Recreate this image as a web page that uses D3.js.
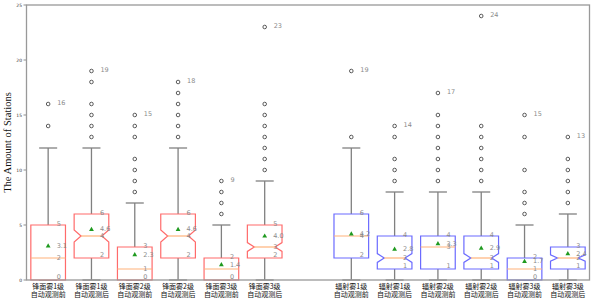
<!DOCTYPE html>
<html>
<head>
<meta charset="utf-8">
<script src="https://cdn.jsdelivr.net/npm/d3@7"></script>
<style>
  body { margin: 0; background: #fff; }
  svg { display: block; }
</style>
</head>
<body>
<svg id="chart"></svg>
<script>
// slot 7 is left empty between the two fog groups
var positions = [1, 2, 3, 4, 5, 6, 8, 9, 10, 11, 12, 13];
var labelTop = ["锋面雾1级", "锋面雾1级", "锋面雾2级", "锋面雾2级", "锋面雾3级", "锋面雾3级",
                "辐射雾1级", "辐射雾1级", "辐射雾2级", "辐射雾2级", "辐射雾3级", "辐射雾3级"];
var labelBottom = ["自动观测前", "自动观测后", "自动观测前", "自动观测后", "自动观测前", "自动观测后",
                   "自动观测前", "自动观测后", "自动观测前", "自动观测后", "自动观测前", "自动观测后"];
var group = ["red", "red", "red", "red", "red", "red", "blue", "blue", "blue", "blue", "blue", "blue"];

var whiskerLo = [0, 0, 0, 0, 0, 0, 0, 0, 0, 0, 0, 0];
var q1 = [0, 2, 0, 2, 0, 2, 2, 1, 1, 1, 0, 1];
var medians = [2, 4, 1, 4, 1, 3, 4, 2, 3, 2, 1, 2];
var q3 = [5, 6, 3, 6, 2, 5, 6, 4, 4, 4, 2, 3];
var whiskerHi = [12, 12, 7, 12, 5, 9, 12, 8, 8, 8, 5, 6];
var means = [3.1, 4.6, 2.3, 4.6, 1.4, 4.0, 4.2, 2.8, 3.3, 2.9, 1.7, 2.4];
var notch = [0, 0.55, 0, 0.55, 0, 0.4, 0, 0.4, 0, 0.4, 0, 0.28];
var outliers = [
  [14, 16],
  [13, 14, 15, 16, 18, 19],
  [8, 9, 10, 11, 13, 14, 15],
  [13, 14, 15, 16, 17, 18],
  [6, 7, 8, 9],
  [10, 11, 12, 13, 14, 15, 16, 23],
  [13, 19],
  [9, 10, 11, 13, 14],
  [9, 10, 11, 12, 13, 14, 15, 17],
  [9, 10, 11, 12, 13, 14, 24],
  [6, 7, 8, 10, 13, 15],
  [7, 8, 9, 10, 11, 13]
];
// median label not visible for this box
var hideMedianLabel = [false, false, false, false, true, false, false, false, false, false, false, false];
var yTicks = [0, 5, 10, 15, 20, 25];

var width = 595, height = 301;
var svg = d3.select("#chart").attr("width", width).attr("height", height);

var x = d3.scaleLinear().domain([0.5, 13.5]).range([26.5, 589.5]);
var y = d3.scaleLinear().domain([0, 25]).range([280, 5]);
var step = x(2) - x(1);
var boxW = step * 0.8;
var capW = boxW * 0.52;

var edgeColor = { red: "#ff6b6b", blue: "#6b6bff" };

var data = positions.map(function(p, i) {
  return { p: p, i: i };
});

var g = svg.append("g");

// whiskers
data.forEach(function(d) {
  var cx = x(d.p), i = d.i;
  g.append("line").attr("x1", cx).attr("x2", cx)
    .attr("y1", y(q3[i])).attr("y2", y(whiskerHi[i]))
    .style("stroke", "#808080").style("stroke-width", 1.3);
  g.append("line").attr("x1", cx).attr("x2", cx)
    .attr("y1", y(q1[i])).attr("y2", y(whiskerLo[i]))
    .style("stroke", "#808080").style("stroke-width", 1.3);
  g.append("line").attr("x1", cx - capW / 2).attr("x2", cx + capW / 2)
    .attr("y1", y(whiskerHi[i])).attr("y2", y(whiskerHi[i]))
    .style("stroke", "#808080").style("stroke-width", 1.3);
  g.append("line").attr("x1", cx - capW / 2).attr("x2", cx + capW / 2)
    .attr("y1", y(whiskerLo[i])).attr("y2", y(whiskerLo[i]))
    .style("stroke", "#808080").style("stroke-width", 1.3);
});

// boxes
data.forEach(function(d) {
  var cx = x(d.p), i = d.i;
  var l = cx - boxW / 2, r = cx + boxW / 2;
  var pts;
  if (notch[i] > 0) {
    var inset = boxW * 0.2;
    var nl = medians[i] - notch[i], nh = medians[i] + notch[i];
    pts = [[l, y(q1[i])], [r, y(q1[i])], [r, y(nl)], [r - inset, y(medians[i])], [r, y(nh)],
           [r, y(q3[i])], [l, y(q3[i])], [l, y(nh)], [l + inset, y(medians[i])], [l, y(nl)]];
  } else {
    pts = [[l, y(q1[i])], [r, y(q1[i])], [r, y(q3[i])], [l, y(q3[i])]];
  }
  g.append("polygon")
    .attr("points", pts.map(function(q) { return q.join(","); }).join(" "))
    .style("fill", "white")
    .style("stroke", edgeColor[group[i]])
    .style("stroke-width", 1.2);
  var mInset = notch[i] > 0 ? boxW * 0.2 : 0;
  g.append("line").attr("x1", l + mInset).attr("x2", r - mInset)
    .attr("y1", y(medians[i])).attr("y2", y(medians[i]))
    .style("stroke", "#ffb27a").style("stroke-width", 1.2);
  // mean marker
  var my = y(means[i]);
  g.append("path")
    .attr("d", "M" + cx + "," + (my - 2.6) + " L" + (cx + 2.4) + "," + (my + 1.6) + " L" + (cx - 2.4) + "," + (my + 1.6) + " Z")
    .style("fill", "#1f9a1f");
});

// outliers
data.forEach(function(d) {
  var cx = x(d.p);
  outliers[d.i].forEach(function(v) {
    g.append("circle").attr("cx", cx).attr("cy", y(v)).attr("r", 1.8)
      .style("fill", "none").style("stroke", "#333").style("stroke-width", 0.8);
  });
});

// annotations
var ann = g.append("g").style("font-family", "DejaVu Sans, sans-serif")
  .style("font-size", "6.5px").style("fill", "#8a8a8a");
data.forEach(function(d) {
  var tx = x(d.p) + 8.5, i = d.i;
  ann.append("text").attr("x", tx).attr("y", y(q3[i]) + 1).text(q3[i]);
  ann.append("text").attr("x", tx).attr("y", y(means[i]) + 2).text(means[i].toFixed(1));
  if (!hideMedianLabel[i]) ann.append("text").attr("x", tx).attr("y", y(medians[i]) + 2).text(medians[i]);
  ann.append("text").attr("x", tx).attr("y", y(q1[i]) - 1).text(q1[i]);
  var mx = d3.max(outliers[d.i]);
  ann.append("text").attr("x", x(d.p) + 9).attr("y", y(mx) + 1).text(mx);
});

// y axis ticks
var yAxis = svg.append("g");
yTicks.forEach(function(t) {
  yAxis.append("line").attr("x1", 23.5).attr("x2", 26.5).attr("y1", y(t)).attr("y2", y(t))
    .style("stroke", "#444").style("stroke-width", 0.6);
  yAxis.append("text").attr("x", 22).attr("y", y(t) + 1.5)
    .attr("text-anchor", "end")
    .style("font-family", "DejaVu Sans, sans-serif").style("font-size", "4.5px").style("fill", "#333")
    .text(t);
});

// x labels
var xl = svg.append("g").style("font-family", "Noto Sans CJK SC, sans-serif")
  .style("font-size", "7px").style("fill", "#111").attr("text-anchor", "middle");
data.forEach(function(d) {
  xl.append("text").attr("x", x(d.p)).attr("y", 289).text(labelTop[d.i]);
  xl.append("text").attr("x", x(d.p)).attr("y", 297).text(labelBottom[d.i]);
});

// frame
svg.append("rect").attr("x", x(0.5)).attr("y", y(25))
  .attr("width", x(13.5) - x(0.5)).attr("height", y(0) - y(25))
  .style("fill", "none").style("stroke", "#999").style("stroke-width", 1.3);

// y title
svg.append("text")
  .attr("transform", "translate(11," + y(12.5) + ")rotate(-90)")
  .attr("text-anchor", "middle")
  .style("font-family", "Liberation Serif, DejaVu Serif, serif")
  .style("font-size", "10.5px").style("fill", "#111")
  .text("The Amount of Stations");
</script>
</body>
</html>
